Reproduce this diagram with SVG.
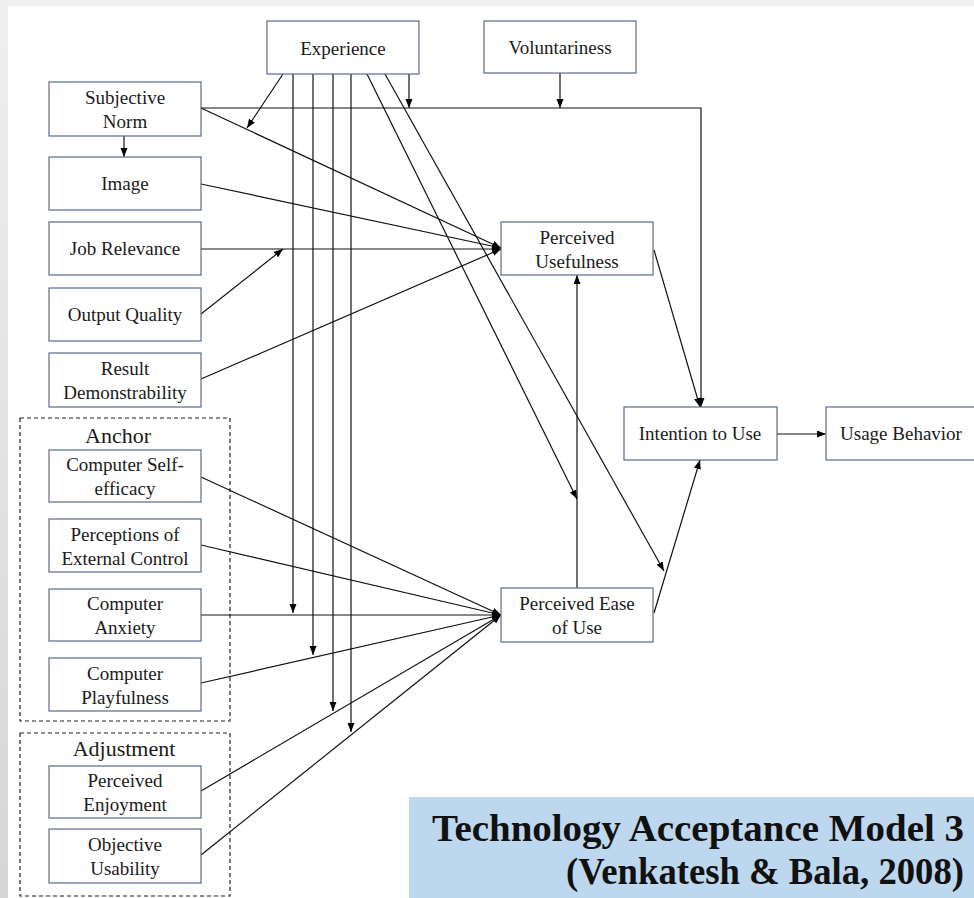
<svg xmlns="http://www.w3.org/2000/svg" width="974" height="898" viewBox="0 0 974 898">
<defs>
<linearGradient id="leftband" x1="0" y1="0" x2="0" y2="1">
<stop offset="0" stop-color="#efefef"/>
<stop offset="1" stop-color="#d6d6d6"/>
</linearGradient>
<marker id="ah" markerUnits="userSpaceOnUse" markerWidth="10" markerHeight="8" refX="9" refY="3.5" orient="auto">
<path d="M0,0 L9,3.5 L0,7 z" fill="#000"/>
</marker>
</defs>
<style>
.box{fill:#fff;stroke:#5b6a8a;stroke-width:1.2}
.grp{fill:none;stroke:#222;stroke-width:1.2;stroke-dasharray:4,3}
.t{font-family:"Liberation Serif","Times New Roman",serif;font-size:19px;fill:#1a1a1a;text-anchor:middle}
.g{font-family:"Liberation Serif","Times New Roman",serif;font-size:22px;fill:#1a1a1a;text-anchor:middle}
.c{fill:none;stroke:#111;stroke-width:1.2;marker-end:url(#ah)}
.title{font-family:"Liberation Serif","Times New Roman",serif;font-size:37px;font-weight:bold;fill:#111}
</style>
<rect x="0" y="0" width="974" height="898" fill="#f0f0f0"/>
<rect x="0" y="0" width="8" height="898" fill="url(#leftband)"/>
<rect x="8" y="6" width="966" height="892" fill="#fff"/>

<g id="group-anchor">
<rect class="grp" x="20" y="418" width="210" height="303"/>
<text class="g" x="118" y="443">Anchor</text>
</g>
<g id="group-adjustment">
<rect class="grp" x="20" y="733" width="210" height="163"/>
<text class="g" x="124" y="756">Adjustment</text>
</g>

<g id="connectors">
<path class="c" d="M201,108 L501,248"/>
<path class="c" d="M201,184 L501,248"/>
<path class="c" d="M201,249 L501,249"/>
<path class="c" d="M201,379 L501,249"/>
<path class="c" d="M201,314 L283,249"/>
<path class="c" d="M124,136 L124,157"/>
<path class="c" d="M201,108 L701,108 L701,407"/>
<path class="c" d="M560,73 L560,108"/>
<path class="c" d="M409,74 L409,108"/>
<path class="c" d="M283,74 L247,128"/>
<path class="c" d="M293,74 L293,613"/>
<path class="c" d="M313,74 L313,655"/>
<path class="c" d="M333,74 L333,711"/>
<path class="c" d="M351,74 L351,732"/>
<path class="c" d="M367,74 L577,499"/>
<path class="c" d="M385,74 L664,571"/>
<path class="c" d="M654,250 L700,407"/>
<path class="c" d="M577,588 L577,275"/>
<path class="c" d="M654,613 L700,460"/>
<path class="c" d="M777,434 L826,434"/>
<path class="c" d="M201,477 L501,615"/>
<path class="c" d="M201,545 L501,615"/>
<path class="c" d="M201,615 L501,615"/>
<path class="c" d="M201,683 L501,615"/>
<path class="c" d="M201,791 L501,615"/>
<path class="c" d="M201,855 L501,615"/>
</g>

<g id="experience"><rect class="box" x="267" y="21" width="152" height="53"/><text class="t" x="343" y="55">Experience</text></g>
<g id="voluntariness"><rect class="box" x="484" y="21" width="152" height="52"/><text class="t" x="560" y="54">Voluntariness</text></g>
<g id="subjective-norm"><rect class="box" x="49" y="82" width="152" height="54"/><text class="t" x="125" y="104">Subjective</text><text class="t" x="125" y="128">Norm</text></g>
<g id="image"><rect class="box" x="49" y="157" width="152" height="53"/><text class="t" x="125" y="190">Image</text></g>
<g id="job-relevance"><rect class="box" x="49" y="222" width="152" height="53"/><text class="t" x="125" y="255">Job Relevance</text></g>
<g id="output-quality"><rect class="box" x="49" y="288" width="152" height="53"/><text class="t" x="125" y="321">Output Quality</text></g>
<g id="result-demonstrability"><rect class="box" x="49" y="353" width="152" height="54"/><text class="t" x="125" y="375">Result</text><text class="t" x="125" y="399">Demonstrability</text></g>
<g id="computer-self-efficacy"><rect class="box" x="49" y="450" width="152" height="52"/><text class="t" x="125" y="471">Computer Self-</text><text class="t" x="125" y="495">efficacy</text></g>
<g id="perceptions-external-control"><rect class="box" x="49" y="519" width="152" height="53"/><text class="t" x="125" y="541">Perceptions of</text><text class="t" x="125" y="565">External Control</text></g>
<g id="computer-anxiety"><rect class="box" x="49" y="589" width="152" height="52"/><text class="t" x="125" y="610">Computer</text><text class="t" x="125" y="634">Anxiety</text></g>
<g id="computer-playfulness"><rect class="box" x="49" y="658" width="152" height="53"/><text class="t" x="125" y="680">Computer</text><text class="t" x="125" y="704">Playfulness</text></g>
<g id="perceived-enjoyment"><rect class="box" x="49" y="766" width="152" height="52"/><text class="t" x="125" y="787">Perceived</text><text class="t" x="125" y="811">Enjoyment</text></g>
<g id="objective-usability"><rect class="box" x="49" y="829" width="152" height="54"/><text class="t" x="125" y="851">Objective</text><text class="t" x="125" y="875">Usability</text></g>
<g id="perceived-usefulness"><rect class="box" x="501" y="222" width="152" height="53"/><text class="t" x="577" y="244">Perceived</text><text class="t" x="577" y="268">Usefulness</text></g>
<g id="perceived-ease-of-use"><rect class="box" x="501" y="588" width="152" height="54"/><text class="t" x="577" y="610">Perceived Ease</text><text class="t" x="577" y="634">of Use</text></g>
<g id="intention-to-use"><rect class="box" x="624" y="407" width="153" height="53"/><text class="t" x="700" y="440">Intention to Use</text></g>
<g id="usage-behavior"><rect class="box" x="826" y="407" width="152" height="53"/><text class="t" x="901" y="440">Usage Behavior</text></g>

<g id="title">
<rect x="409" y="797" width="570" height="105" fill="#bdd7ee"/>
<text class="title" x="432" y="841" textLength="532" lengthAdjust="spacingAndGlyphs">Technology Acceptance Model 3</text>
<text class="title" x="566" y="884" textLength="398" lengthAdjust="spacingAndGlyphs">(Venkatesh &amp; Bala, 2008)</text>
</g>
</svg>
